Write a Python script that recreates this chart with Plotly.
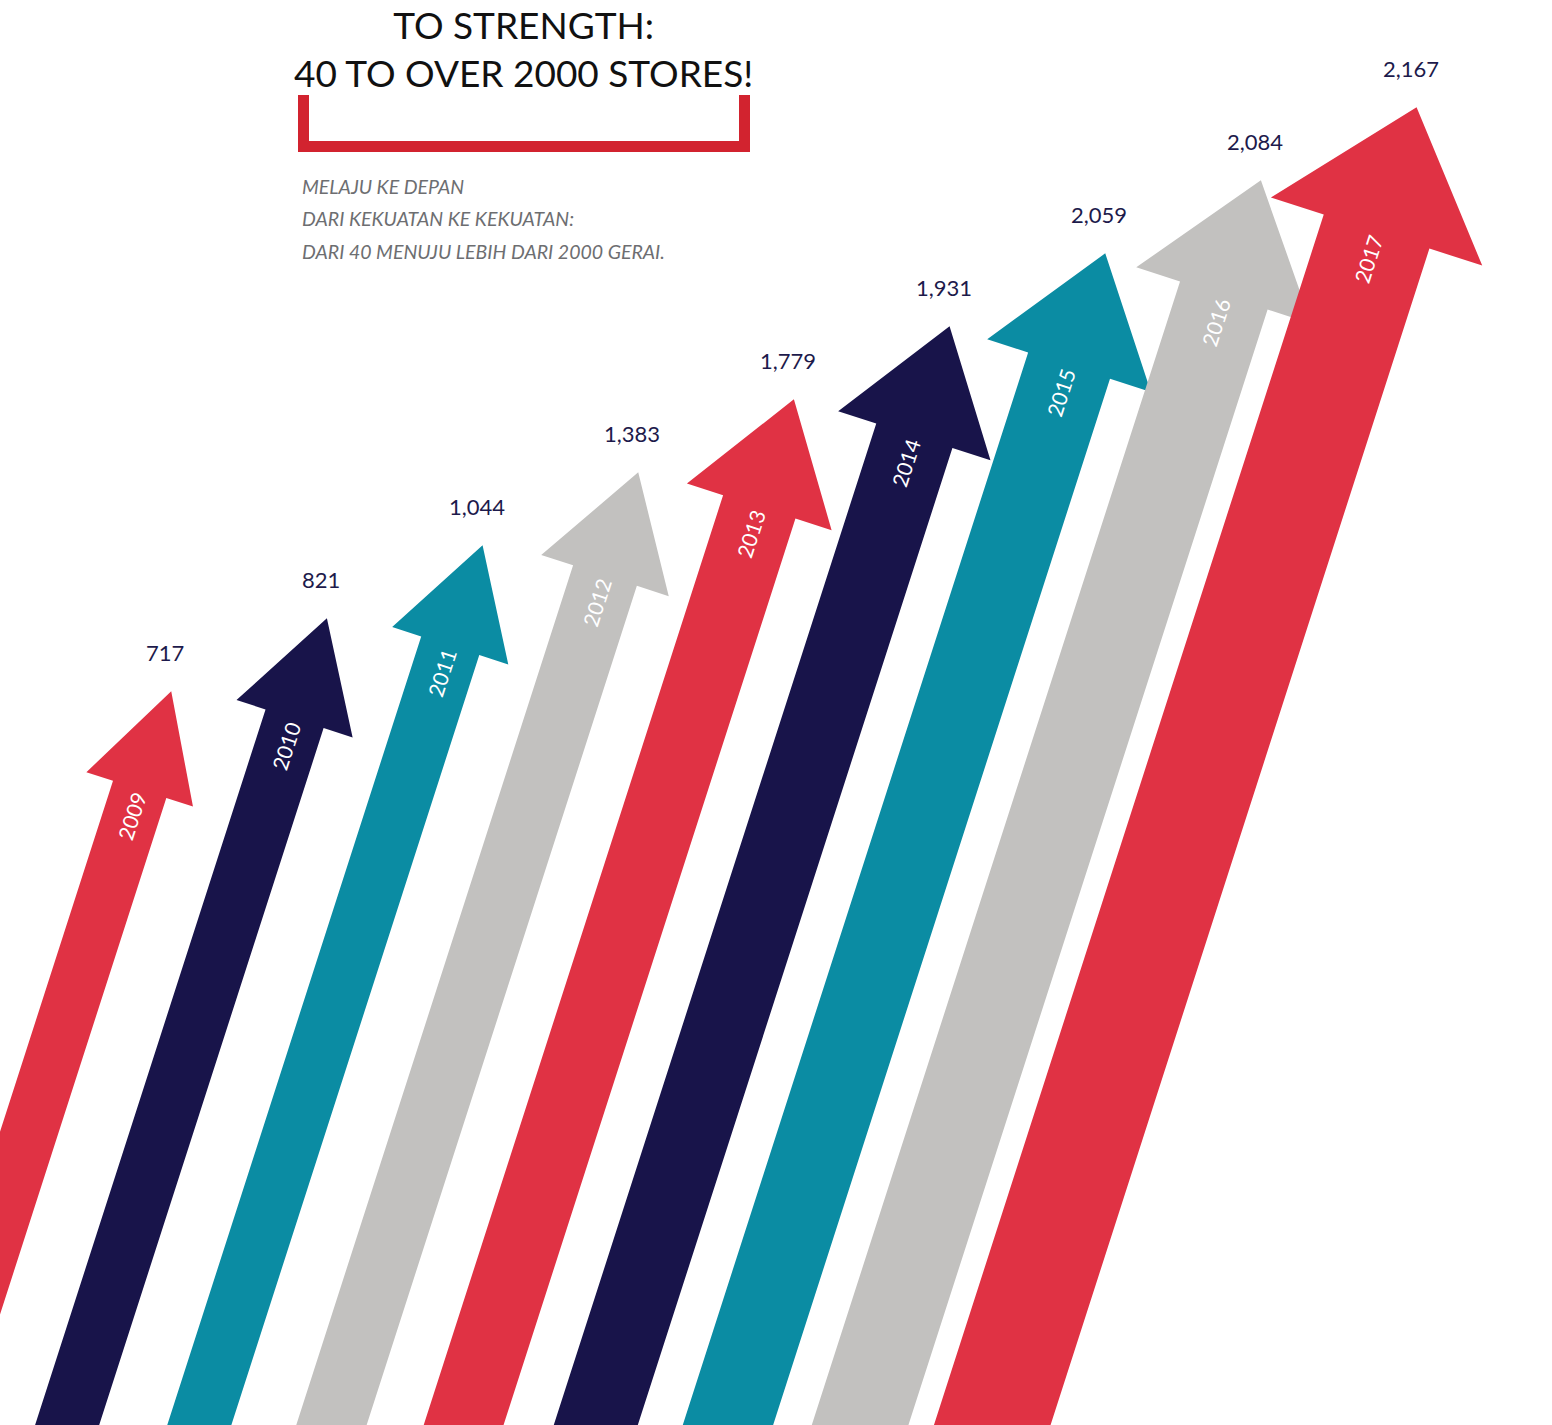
import math
import plotly.graph_objects as go

# ---- data -------------------------------------------------------------
years = [2009, 2010, 2011, 2012, 2013, 2014, 2015, 2016, 2017]
stores = [717, 821, 1044, 1383, 1779, 1931, 2059, 2084, 2167]
store_labels = [f"{v:,}" for v in stores]

title_lines = ["TO STRENGTH:", "40 TO OVER 2000 STORES!"]
subtitle_lines = [
    "MELAJU KE DEPAN",
    "DARI KEKUATAN KE KEKUATAN:",
    "DARI 40 MENUJU LEBIH DARI 2000 GERAI.",
]

# ---- style ------------------------------------------------------------
RED, NAVY, TEAL, GREY = "#E03244", "#18144A", "#0B8CA3", "#C2C1BF"
arrow_colors = [RED, NAVY, TEAL, GREY, RED, NAVY, TEAL, GREY, RED]
shaft_widths = [56, 61, 61, 67, 76, 80, 86, 92, 111]   # px, perpendicular to shaft
LABEL_COLOR = "#1D1A4B"
FONT = "Lato"

W, H = 1552, 1425
TILT = math.atan(0.322)            # arrow lean from vertical
S, C = math.sin(TILT), math.cos(TILT)

# store counts live on a category axis; shapes and annotations address a
# category by its serial number on that axis
store_axis = sorted(store_labels, key=lambda s: int(s.replace(",", "")))
store_pos = {lab: k for k, lab in enumerate(store_axis)}


def arrow_path(w):
    """Arrow outline in pixel offsets from its tip (y up)."""
    hw = 2.0 * w                   # head width
    hl = 75 + 0.5 * w              # head length
    L = 2200                       # shaft runs past the bottom edge
    ux, uy = S, C                  # unit vector pointing to the tip
    nx, ny = C, -S                 # unit vector to the right of the shaft

    def pt(a, b):
        return (a * ux + b * nx, a * uy + b * ny)

    pts = [(0.0, 0.0), pt(-hl, hw / 2), pt(-hl, w / 2), pt(-L, w / 2),
           pt(-L, -w / 2), pt(-hl, -w / 2), pt(-hl, -hw / 2)]
    return "M" + "L".join(f"{x:.2f},{y:.2f}" for x, y in pts) + "Z"


fig = go.Figure()

shapes = []
annotations = []
for yr, lab, col, w in zip(years, store_labels, arrow_colors, shaft_widths):
    ypos = store_pos[lab]
    shapes.append(dict(
        type="path", xref="x", yref="y",
        xsizemode="pixel", ysizemode="pixel",
        xanchor=yr, yanchor=ypos,
        path=arrow_path(w),
        fillcolor=col, line=dict(width=0, color="rgba(0,0,0,0)"),
        layer="above",
    ))
    # store count above the tip
    annotations.append(dict(
        x=yr, y=ypos, xref="x", yref="y", text=lab, showarrow=False,
        xanchor="center", yanchor="middle", xshift=-6, yshift=39,
        font=dict(family=FONT, size=22, color=LABEL_COLOR),
    ))
    # year written along the shaft
    d = 75 + 0.5 * w + 28
    annotations.append(dict(
        x=yr, y=ypos, xref="x", yref="y", text=str(yr), showarrow=False,
        xanchor="center", yanchor="middle",
        xshift=-d * S, yshift=-d * C,
        textangle=-(90 - math.degrees(TILT)),
        font=dict(family=FONT, size=21, color="white"),
    ))


def px_x(v):
    return v / W


def px_y(v):
    return 1 - v / H


# headline (two lines in one block)
annotations.append(dict(
    x=px_x(523), y=1, xref="paper", yref="paper",
    text="<br>".join(title_lines), showarrow=False,
    xanchor="center", yanchor="top", align="center",
    font=dict(family=FONT, size=37, color="#111111"),
))

# sub-headline
for i, line in enumerate(subtitle_lines):
    annotations.append(dict(
        x=px_x(300), y=px_y(187 + 32 * i), xref="paper", yref="paper",
        text=f"<i>{line}</i>", showarrow=False, xanchor="left", yanchor="middle",
        font=dict(family=FONT, size=19.5, color="#6D6E71"),
    ))

# red bracket under the headline
BR = "#D2232F"
for x0, y0, x1, y1 in [(298, 95, 309, 152), (739, 95, 750, 152), (298, 141, 750, 152)]:
    shapes.append(dict(type="rect", xref="paper", yref="paper",
                       x0=px_x(x0), x1=px_x(x1), y0=px_y(y1), y1=px_y(y0),
                       fillcolor=BR, line=dict(width=0)))

fig.update_layout(
    width=W, height=H,
    margin=dict(l=0, r=0, t=0, b=0),
    paper_bgcolor="white", plot_bgcolor="white",
    showlegend=False,
    xaxis=dict(range=[2007.90, 2017.87], visible=False, fixedrange=True),
    yaxis=dict(type="category", categoryorder="array", categoryarray=store_axis,
               range=[-10.05, 9.47], visible=False, fixedrange=True),
    shapes=shapes,
    annotations=annotations,
)

fig.write_html("out.html")
